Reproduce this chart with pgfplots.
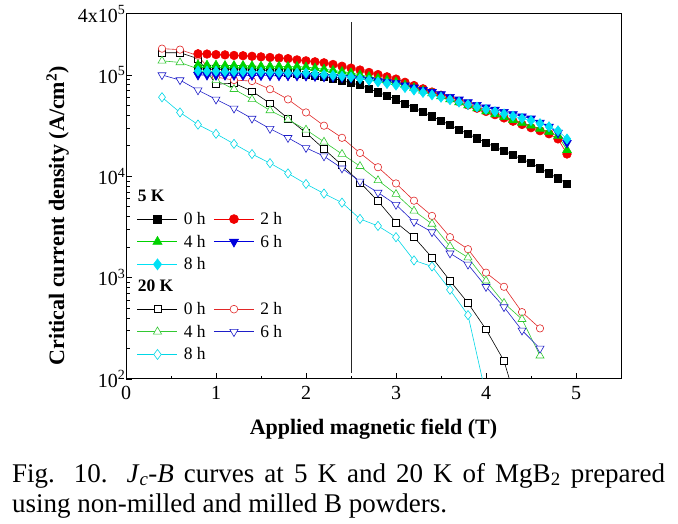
\documentclass[border=0pt]{standalone}
\usepackage{fontspec}
\setmainfont{Liberation Serif}
\usepackage{pgfplots}
\pgfplotsset{compat=1.18}
\definecolor{cred}{RGB}{240,0,0}
\definecolor{cgreen}{RGB}{0,210,0}
\definecolor{cblue}{RGB}{0,0,220}
\definecolor{ccyan}{RGB}{0,225,245}
\definecolor{ored}{RGB}{225,40,40}
\definecolor{ogreen}{RGB}{50,200,50}
\definecolor{oblue}{RGB}{30,30,200}
\definecolor{ocyan}{RGB}{0,215,230}
\begin{document}
\begin{tikzpicture}
\useasboundingbox (0,0) rectangle (678pt,-524pt);
\begin{axis}[
  at={(126pt,-379pt)}, anchor=south west,
  scale only axis, width=495pt, height=365pt,
  xmin=0, xmax=5.5, ymin=100, ymax=4e5, ymode=log,
  xtick={0,1,2,3,4,5}, minor x tick num=1,
  ytick={100,1000,10000,100000},
  yticklabels={10\textsuperscript{2},10\textsuperscript{3},10\textsuperscript{4},10\textsuperscript{5}},
  extra y ticks={400000}, extra y tick labels={4x10\textsuperscript{5}},
  extra y tick style={major tick length=0pt},
  /pgf/number format/assume math mode=true,
  tick align=inside, xtick pos=left, ytick pos=left,
  major tick length=6pt, minor tick length=3.5pt,
  axis line style={line width=1pt},
  every tick/.style={black, line width=0.8pt},
  ticklabel style={font=\fontsize{20}{24}\selectfont},
  yticklabel style={xshift=3pt},
  xticklabel style={yshift=-4pt},
  xlabel={\textbf{Applied magnetic field (T)}},
  xlabel style={font=\fontsize{22}{26}\selectfont, at={(axis description cs:0.5,-0.153)}, anchor=base},
  ylabel={\textbf{Critical current density (A/cm\textsuperscript{2})}},
  ylabel style={font=\fontsize{22}{26}\selectfont, at={(axis description cs:-0.138,0.447)}, anchor=center},
  legend columns=2,
  legend cell align=left,
  legend image code/.code={\draw[mark repeat=2,mark phase=2] plot coordinates {(0pt,0pt) (20pt,0pt) (40pt,0pt)};},
  legend style={at={(axis description cs:0.0222,0.523)}, anchor=north west, draw=none, fill=none,
    inner sep=0pt, font=\fontsize{17.5}{20}\selectfont, column sep=4pt, row sep=5pt,
    /tikz/every even column/.append style={column sep=6pt}},
]
% ---- legend ----
\addlegendimage{empty legend}\addlegendentry{\makebox[0pt][l]{\hspace*{-46pt}\textbf{5 K}}}
\addlegendimage{empty legend}\addlegendentry{}
\addlegendimage{black, line width=0.6pt, mark=square*, mark size=4pt, mark options={fill=black}}\addlegendentry{0 h}
\addlegendimage{cred, line width=0.6pt, mark=*, mark size=4.5pt, mark options={fill=cred}}\addlegendentry{2 h}
\addlegendimage{cgreen, line width=0.6pt, mark=triangle*, mark size=5.3pt, mark options={fill=cgreen}}\addlegendentry{4 h}
\addlegendimage{cblue, line width=0.6pt, mark=triangle*, mark size=5.3pt, mark options={fill=cblue, rotate=180}}\addlegendentry{6 h}
\addlegendimage{ccyan, line width=0.6pt, mark=diamond*, mark size=5.5pt, mark options={fill=ccyan}}\addlegendentry{8 h}
\addlegendimage{empty legend}\addlegendentry{}
\addlegendimage{empty legend}\addlegendentry{\makebox[0pt][l]{\hspace*{-46pt}\textbf{20 K}}}
\addlegendimage{empty legend}\addlegendentry{}
\addlegendimage{black, line width=0.6pt, mark=square*, mark size=3.6pt, mark options={fill=white}}\addlegendentry{0 h}
\addlegendimage{ored, line width=0.6pt, mark=*, mark size=3.9pt, mark options={fill=white}}\addlegendentry{2 h}
\addlegendimage{ogreen, line width=0.6pt, mark=triangle*, mark size=4.8pt, mark options={fill=white}}\addlegendentry{4 h}
\addlegendimage{oblue, line width=0.6pt, mark=triangle*, mark size=4.8pt, mark options={fill=white, rotate=180}}\addlegendentry{6 h}
\addlegendimage{ocyan, line width=0.6pt, mark=diamond*, mark size=5pt, mark options={fill=white}}\addlegendentry{8 h}

% ---- 20 K (open) ----
\addplot[forget plot, black, line width=0.6pt, mark=square*, mark size=3.4pt, mark options={fill=white}] coordinates {
(0.4,1.66e5)(0.6,1.66e5)(0.8,1.45e5)(1.0,8.1e4)(1.2,8.3e4)(1.4,6.92e4)(1.6,5.25e4)(1.8,3.72e4)(2.0,2.69e4)(2.2,1.86e4)(2.4,1.29e4)(2.6,8.71e3)(2.8,5.69e3)(3.0,3.51e3)(3.2,2.51e3)(3.4,1.58e3)(3.6,933)(3.8,562)(4.0,309)(4.2,151)(4.4,38)};
\addplot[forget plot, ored, line width=0.6pt, mark=*, mark size=3.7pt, mark options={fill=white}] coordinates {
(0.4,1.82e5)(0.6,1.78e5)(0.8,1.55e5)(1.0,9.55e4)(1.2,8.91e4)(1.4,8.71e4)(1.6,7.24e4)(1.8,5.75e4)(2.0,4.27e4)(2.2,3.16e4)(2.4,2.40e4)(2.6,1.70e4)(2.8,1.23e4)(3.0,8.51e3)(3.2,5.75e3)(3.4,4.07e3)(3.6,2.51e3)(3.8,1.91e3)(4.0,1.12e3)(4.2,813)(4.4,457)(4.6,316)};
\addplot[forget plot, ogreen, line width=0.6pt, mark=triangle*, mark size=4.6pt, mark options={fill=white}] coordinates {
(0.4,1.38e5)(0.6,1.33e5)(0.8,1.15e5)(1.0,8.91e4)(1.2,7.24e4)(1.4,5.75e4)(1.6,4.47e4)(1.8,3.63e4)(2.0,2.88e4)(2.2,2.19e4)(2.4,1.66e4)(2.6,1.26e4)(2.8,9.12e3)(3.0,6.68e3)(3.2,4.57e3)(3.4,3.39e3)(3.6,2.04e3)(3.8,1.58e3)(4.0,933)(4.2,562)(4.4,389)(4.6,170)};
\addplot[forget plot, oblue, line width=0.6pt, mark=triangle*, mark size=4.6pt, mark options={fill=white, rotate=180}] coordinates {
(0.4,1.0e5)(0.6,8.91e4)(0.8,7.08e4)(1.0,5.75e4)(1.2,4.68e4)(1.4,3.72e4)(1.6,2.95e4)(1.8,2.40e4)(2.0,1.91e4)(2.2,1.58e4)(2.4,1.20e4)(2.6,8.91e3)(2.8,6.92e3)(3.0,5.25e3)(3.2,3.55e3)(3.4,2.82e3)(3.6,1.74e3)(3.8,1.35e3)(4.0,813)(4.2,513)(4.4,302)(4.6,200)};
\addplot[forget plot, ocyan, line width=0.6pt, mark=diamond*, mark size=4.6pt, mark options={fill=white}] coordinates {
(0.4,6.03e4)(0.6,4.27e4)(0.8,3.24e4)(1.0,2.63e4)(1.2,2.09e4)(1.4,1.66e4)(1.6,1.35e4)(1.8,1.07e4)(2.0,8.41e3)(2.2,6.76e3)(2.4,5.50e3)(2.6,3.80e3)(2.8,3.24e3)(3.0,2.51e3)(3.2,1.48e3)(3.4,1.29e3)(3.6,759)(3.8,427)(4.0,69)};

% ---- 5 K (filled) ----
\addplot[forget plot, black, line width=0.6pt, mark=square*, mark size=3.6pt, mark options={fill=black}] coordinates {
(0.8,1.15e5)(0.9,1.14e5)(1.0,1.14e5)(1.1,1.13e5)(1.2,1.13e5)(1.3,1.12e5)(1.4,1.12e5)(1.5,1.11e5)(1.6,1.11e5)(1.7,1.08e5)(1.8,1.06e5)(1.9,1.04e5)(2.0,1.01e5)(2.1,9.84e4)(2.2,9.55e4)(2.3,9.27e4)(2.4,8.81e4)(2.5,8.36e4)(2.6,7.94e4)(2.7,7.33e4)(2.8,6.76e4)(2.9,6.24e4)(3.0,5.75e4)(3.1,5.22e4)(3.2,4.74e4)(3.3,4.31e4)(3.4,3.91e4)(3.5,3.55e4)(3.6,3.21e4)(3.7,2.90e4)(3.8,2.62e4)(3.9,2.37e4)(4.0,2.14e4)(4.1,1.95e4)(4.2,1.78e4)(4.3,1.62e4)(4.4,1.48e4)(4.5,1.35e4)(4.6,1.20e4)(4.7,1.07e4)(4.8,9.55e3)(4.9,8.51e3)};
\addplot[forget plot, cred, line width=0.6pt, mark=*, mark size=4.3pt, mark options={fill=cred}] coordinates {
(0.8,1.62e5)(0.9,1.61e5)(1.0,1.59e5)(1.1,1.58e5)(1.2,1.56e5)(1.3,1.55e5)(1.4,1.53e5)(1.5,1.51e5)(1.6,1.49e5)(1.7,1.47e5)(1.8,1.45e5)(1.9,1.41e5)(2.0,1.38e5)(2.1,1.35e5)(2.2,1.32e5)(2.3,1.27e5)(2.4,1.22e5)(2.5,1.17e5)(2.6,1.12e5)(2.7,1.06e5)(2.8,1.01e5)(2.9,9.6e4)(3.0,9.12e4)(3.1,8.47e4)(3.2,7.87e4)(3.3,7.31e4)(3.4,6.79e4)(3.5,6.31e4)(3.6,5.86e4)(3.7,5.45e4)(3.8,5.06e4)(3.9,4.70e4)(4.0,4.37e4)(4.1,4.06e4)(4.2,3.77e4)(4.3,3.50e4)(4.4,3.25e4)(4.5,3.02e4)(4.6,2.82e4)(4.7,2.63e4)(4.8,2.34e4)(4.9,1.66e4)};
\addplot[forget plot, cgreen, line width=0.6pt, mark=triangle*, mark size=5pt, mark options={fill=cgreen}] coordinates {
(0.8,1.26e5)(0.9,1.25e5)(1.0,1.25e5)(1.1,1.24e5)(1.2,1.24e5)(1.3,1.24e5)(1.4,1.23e5)(1.5,1.22e5)(1.6,1.22e5)(1.7,1.22e5)(1.8,1.21e5)(1.9,1.21e5)(2.0,1.20e5)(2.1,1.17e5)(2.2,1.14e5)(2.3,1.11e5)(2.4,1.08e5)(2.5,1.05e5)(2.6,1.00e5)(2.7,9.64e4)(2.8,9.25e4)(2.9,8.87e4)(3.0,8.51e4)(3.1,7.98e4)(3.2,7.48e4)(3.3,7.01e4)(3.4,6.58e4)(3.5,6.17e4)(3.6,5.75e4)(3.7,5.37e4)(3.8,5.01e4)(3.9,4.68e4)(4.0,4.37e4)(4.1,4.09e4)(4.2,3.84e4)(4.3,3.60e4)(4.4,3.37e4)(4.5,3.16e4)(4.6,2.95e4)(4.7,2.75e4)(4.8,2.51e4)(4.9,1.82e4)};
\addplot[forget plot, cblue, line width=0.6pt, mark=triangle*, mark size=5pt, mark options={fill=cblue, rotate=180}] coordinates {
(0.8,1.00e5)(0.9,9.98e4)(1.0,9.95e4)(1.1,9.95e4)(1.2,9.93e4)(1.3,9.91e4)(1.4,9.89e4)(1.5,9.86e4)(1.6,9.84e4)(1.7,9.84e4)(1.8,9.82e4)(1.9,9.80e4)(2.0,9.77e4)(2.1,9.68e4)(2.2,9.59e4)(2.3,9.51e4)(2.4,9.42e4)(2.5,9.33e4)(2.6,9.12e4)(2.7,8.91e4)(2.8,8.71e4)(2.9,8.51e4)(3.0,8.32e4)(3.1,7.91e4)(3.2,7.52e4)(3.3,7.14e4)(3.4,6.79e4)(3.5,6.46e4)(3.6,6.08e4)(3.7,5.73e4)(3.8,5.40e4)(3.9,5.08e4)(4.0,4.79e4)(4.1,4.55e4)(4.2,4.33e4)(4.3,4.11e4)(4.4,3.91e4)(4.5,3.72e4)(4.6,3.39e4)(4.7,3.09e4)(4.8,2.69e4)(4.9,2.14e4)};
\addplot[forget plot, ccyan, line width=0.6pt, mark=diamond*, mark size=5pt, mark options={fill=ccyan}] coordinates {
(0.8,1.10e5)(0.9,1.09e5)(1.0,1.09e5)(1.1,1.08e5)(1.2,1.08e5)(1.3,1.08e5)(1.4,1.07e5)(1.5,1.07e5)(1.6,1.06e5)(1.7,1.06e5)(1.8,1.05e5)(1.9,1.05e5)(2.0,1.05e5)(2.1,1.03e5)(2.2,1.01e5)(2.3,9.91e4)(2.4,9.73e4)(2.5,9.55e4)(2.6,9.20e4)(2.7,8.87e4)(2.8,8.55e4)(2.9,8.24e4)(3.0,7.94e4)(3.1,7.52e4)(3.2,7.11e4)(3.3,6.73e4)(3.4,6.37e4)(3.5,6.03e4)(3.6,5.70e4)(3.7,5.40e4)(3.8,5.11e4)(3.9,4.83e4)(4.0,4.57e4)(4.1,4.35e4)(4.2,4.13e4)(4.3,3.93e4)(4.4,3.73e4)(4.5,3.55e4)(4.6,3.31e4)(4.7,3.09e4)(4.8,2.82e4)(4.9,2.34e4)};

% vertical line at 2.5 T
\addplot[forget plot, black!85, line width=0.9pt] coordinates {(2.5,115)(2.5,3.35e5)};
\end{axis}
\node[anchor=base west, inner sep=0pt, text width=653pt, align=justify, font=\fontsize{27}{30}\selectfont] at (12pt,-482pt)
  {Fig. 10. \textit{J}\textsubscript{\textit{c}}-\textit{B} curves at 5 K and 20 K of MgB\textsubscript{2} prepared\linebreak using non-milled and milled B powders.};
\end{tikzpicture}
\end{document}
